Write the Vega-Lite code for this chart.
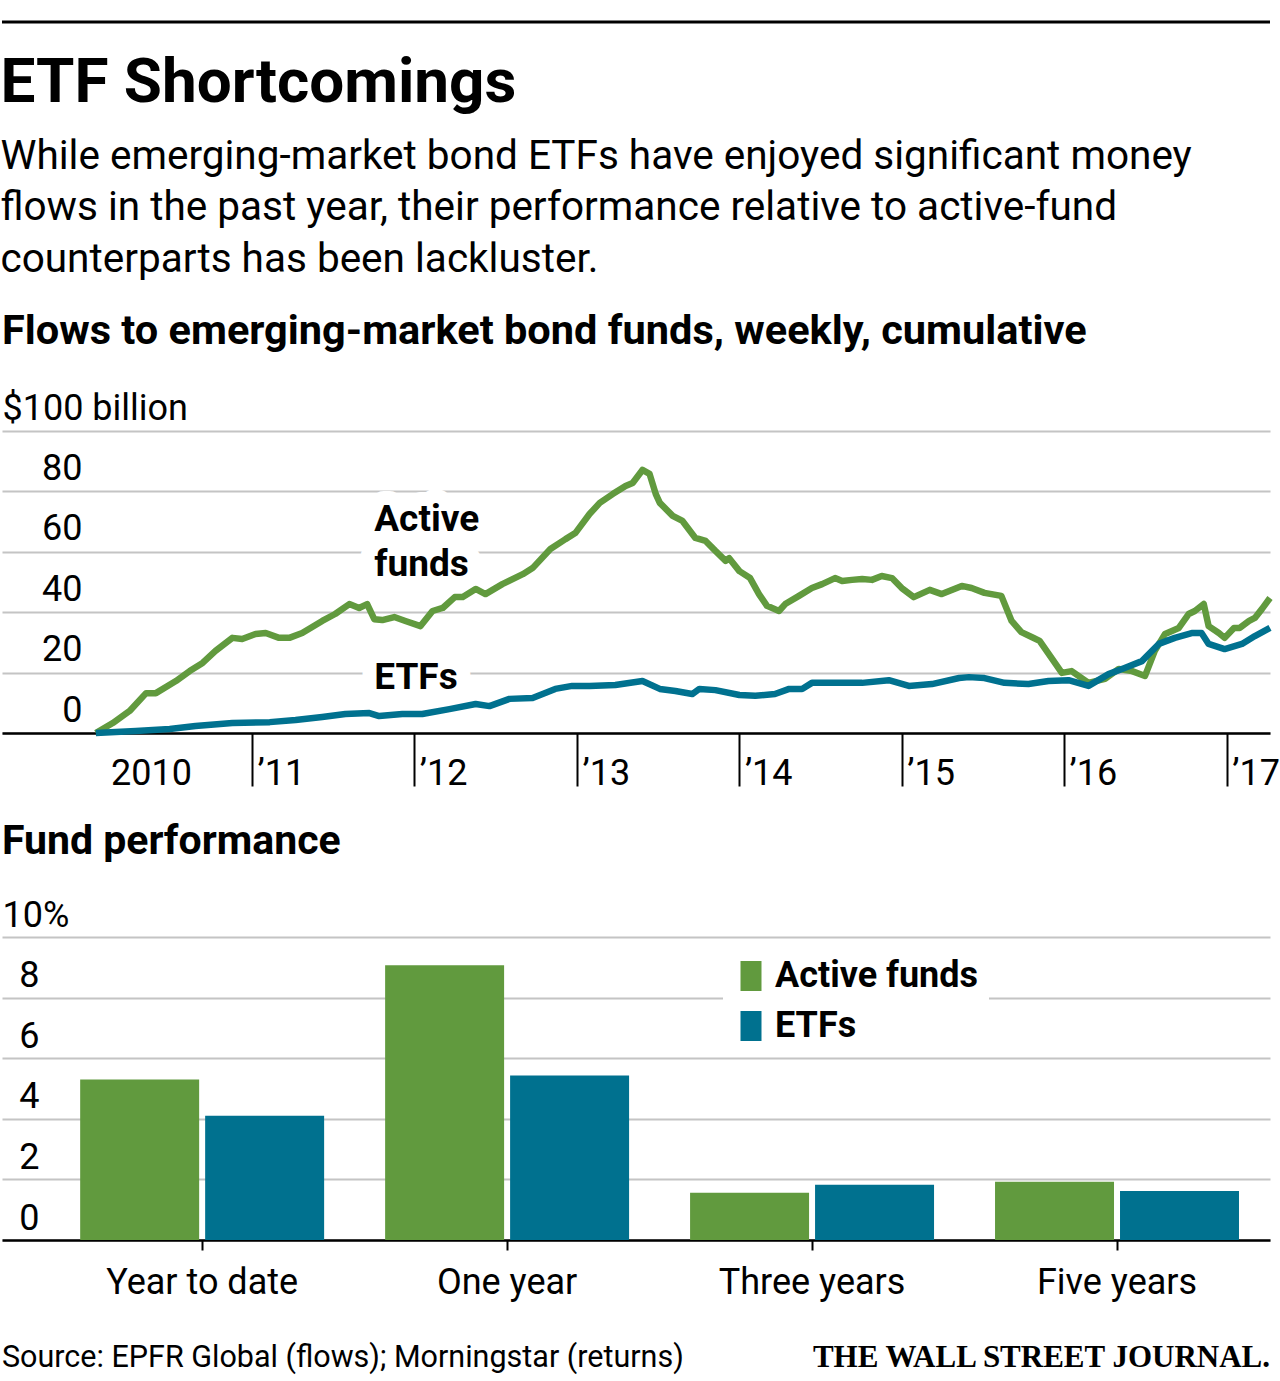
{
  "$schema": "https://vega.github.io/schema/vega-lite/v6.json",
  "background": "white",
  "padding": {"left": 0, "top": 20, "right": 12, "bottom": 0},
  "spacing": 30,
  "resolve": {"scale": {"color": "independent"}, "legend": {"color": "independent"}},
  "config": {
    "view": {"stroke": null},
    "font": "Roboto",
    "title": {"font": "Roboto", "color": "black", "anchor": "start", "fontWeight": "bold"},
    "axis": {"labelFont": "Roboto", "labelColor": "black", "labelFontSize": 36, "titleFont": "Roboto", "labelLimit": 400}
  },
  "vconcat": [
    {
      "width": 1268,
      "height": 1,
      "data": {"values": [{"v": 1}]},
      "mark": {"type": "rule", "color": "black", "strokeWidth": 3},
      "encoding": {"y": {"field": "v", "type": "quantitative", "axis": null, "scale": {"domain": [0, 1]}}},
      "title": {
        "text": "ETF Shortcomings",
        "subtitle": [
          "While emerging-market bond ETFs have enjoyed significant money",
          "flows in the past year, their performance relative to active-fund",
          "counterparts has been lackluster."
        ],
        "orient": "bottom",
        "anchor": "start",
        "fontSize": 62,
        "fontWeight": "bold",
        "offset": 29,
        "subtitleFont": "Roboto",
        "subtitleFontSize": 40.5,
        "subtitleColor": "black",
        "subtitleLineHeight": 51.5,
        "subtitlePadding": 22
      }
    },
    {
      "width": 1268,
      "height": 302,
      "title": {
        "text": "Flows to emerging-market bond funds, weekly, cumulative",
        "fontSize": 41.5,
        "fontWeight": "bold",
        "offset": 38
      },
      "encoding": {
        "x": {
          "field": "date",
          "type": "temporal",
          "title": null,
          "scale": {"domain": [{"year": 2009, "month": 6, "date": 18}, {"year": 2017, "month": 4, "date": 8}]},
          "axis": {
            "values": [
              {"year": 2010, "month": 1, "date": 1},
              {"year": 2011, "month": 1, "date": 1},
              {"year": 2012, "month": 1, "date": 1},
              {"year": 2013, "month": 1, "date": 1},
              {"year": 2014, "month": 1, "date": 1},
              {"year": 2015, "month": 1, "date": 1},
              {"year": 2016, "month": 1, "date": 1},
              {"year": 2017, "month": 1, "date": 1}
            ],
            "labelExpr": "year(datum.value) == 2010 ? '2010' : '\u2019' + substring(toString(year(datum.value)), 2)",
            "grid": false,
            "domain": true,
            "domainColor": "black",
            "domainWidth": 2.5,
            "ticks": true,
            "tickSize": 53,
            "tickWidth": 2,
            "tickColor": {"condition": {"test": "year(datum.value) == 2010", "value": "transparent"}, "value": "black"},
            "labelAlign": "left",
            "labelBaseline": "alphabetic",
            "labelPadding": -2,
            "labelOffset": {"condition": {"test": "year(datum.value) == 2010", "value": 21}, "value": 5},
            "labelFlush": false,
            "labelOverlap": false,
            "labelBound": false
          }
        },
        "y": {
          "field": "value",
          "type": "quantitative",
          "title": null,
          "scale": {"domain": [0, 100], "nice": false},
          "axis": {
            "values": [0, 20, 40, 60, 80, 100],
            "labelExpr": "datum.value == 100 ? '$100 billion' : datum.label",
            "grid": true,
            "gridColor": "#c4c4c4",
            "gridWidth": 2,
            "domain": false,
            "ticks": false,
            "tickSize": 0,
            "labelAlign": {"condition": {"test": "datum.value == 100", "value": "left"}, "value": "right"},
            "labelPadding": {"condition": {"test": "datum.value == 100", "value": 0}, "value": -80},
            "labelBaseline": "alphabetic",
            "labelOffset": -12,
            "labelFlush": false,
            "labelOverlap": false,
            "labelBound": false
          }
        }
      },
      "layer": [
        {
          "data": {"values": [
            {"date": "2011-10-03", "value": 66.9, "label": "Active"},
            {"date": "2011-10-03", "value": 52.0, "label": "funds"},
            {"date": "2011-10-03", "value": 14.6, "label": "ETFs"}
          ]},
          "mark": {"type": "text", "align": "left", "baseline": "alphabetic", "fontSize": 37, "fontWeight": "bold", "font": "Roboto", "fill": "white", "stroke": "white", "strokeWidth": 28, "strokeJoin": "round"},
          "encoding": {"text": {"field": "label", "type": "nominal"}}
        },
        {
          "data": {"values": [
            {"date": "2010-01-15", "series": "Active funds", "value": 0},
            {"date": "2010-02-22", "series": "Active funds", "value": 3.3},
            {"date": "2010-04-01", "series": "Active funds", "value": 7.3},
            {"date": "2010-05-08", "series": "Active funds", "value": 13.2},
            {"date": "2010-05-30", "series": "Active funds", "value": 13.2},
            {"date": "2010-07-14", "series": "Active funds", "value": 17.2},
            {"date": "2010-08-14", "series": "Active funds", "value": 20.5},
            {"date": "2010-09-12", "series": "Active funds", "value": 23.2},
            {"date": "2010-10-11", "series": "Active funds", "value": 27.2},
            {"date": "2010-11-18", "series": "Active funds", "value": 31.5},
            {"date": "2010-12-10", "series": "Active funds", "value": 31.1},
            {"date": "2011-01-09", "series": "Active funds", "value": 32.8},
            {"date": "2011-02-01", "series": "Active funds", "value": 33.1},
            {"date": "2011-03-03", "series": "Active funds", "value": 31.5},
            {"date": "2011-03-26", "series": "Active funds", "value": 31.5},
            {"date": "2011-04-24", "series": "Active funds", "value": 33.1},
            {"date": "2011-06-08", "series": "Active funds", "value": 37.1},
            {"date": "2011-07-07", "series": "Active funds", "value": 39.4},
            {"date": "2011-08-08", "series": "Active funds", "value": 42.7},
            {"date": "2011-08-30", "series": "Active funds", "value": 41.4},
            {"date": "2011-09-17", "series": "Active funds", "value": 42.7},
            {"date": "2011-10-03", "series": "Active funds", "value": 37.7},
            {"date": "2011-10-21", "series": "Active funds", "value": 37.4},
            {"date": "2011-11-17", "series": "Active funds", "value": 38.4},
            {"date": "2011-12-12", "series": "Active funds", "value": 37.1},
            {"date": "2012-01-15", "series": "Active funds", "value": 35.4},
            {"date": "2012-02-11", "series": "Active funds", "value": 40.4},
            {"date": "2012-03-05", "series": "Active funds", "value": 41.4},
            {"date": "2012-04-01", "series": "Active funds", "value": 45.0},
            {"date": "2012-04-19", "series": "Active funds", "value": 45.0},
            {"date": "2012-05-18", "series": "Active funds", "value": 47.7},
            {"date": "2012-06-09", "series": "Active funds", "value": 46.0},
            {"date": "2012-07-17", "series": "Active funds", "value": 49.3},
            {"date": "2012-09-01", "series": "Active funds", "value": 52.6},
            {"date": "2012-09-23", "series": "Active funds", "value": 54.6},
            {"date": "2012-11-02", "series": "Active funds", "value": 60.9},
            {"date": "2012-12-06", "series": "Active funds", "value": 64.2},
            {"date": "2012-12-28", "series": "Active funds", "value": 66.2},
            {"date": "2013-01-29", "series": "Active funds", "value": 72.5},
            {"date": "2013-02-21", "series": "Active funds", "value": 76.2},
            {"date": "2013-03-22", "series": "Active funds", "value": 79.1},
            {"date": "2013-04-20", "series": "Active funds", "value": 81.8},
            {"date": "2013-05-06", "series": "Active funds", "value": 82.8},
            {"date": "2013-05-28", "series": "Active funds", "value": 87.1},
            {"date": "2013-06-13", "series": "Active funds", "value": 85.8},
            {"date": "2013-06-27", "series": "Active funds", "value": 79.1},
            {"date": "2013-07-06", "series": "Active funds", "value": 76.2},
            {"date": "2013-08-04", "series": "Active funds", "value": 71.9},
            {"date": "2013-08-26", "series": "Active funds", "value": 70.2},
            {"date": "2013-09-24", "series": "Active funds", "value": 64.6},
            {"date": "2013-10-17", "series": "Active funds", "value": 63.6},
            {"date": "2013-11-08", "series": "Active funds", "value": 60.3},
            {"date": "2013-12-01", "series": "Active funds", "value": 57.0},
            {"date": "2013-12-09", "series": "Active funds", "value": 57.9},
            {"date": "2014-01-01", "series": "Active funds", "value": 53.6},
            {"date": "2014-01-25", "series": "Active funds", "value": 51.3},
            {"date": "2014-02-14", "series": "Active funds", "value": 46.0},
            {"date": "2014-03-04", "series": "Active funds", "value": 42.1},
            {"date": "2014-03-31", "series": "Active funds", "value": 40.4},
            {"date": "2014-04-14", "series": "Active funds", "value": 42.7},
            {"date": "2014-05-15", "series": "Active funds", "value": 45.4},
            {"date": "2014-06-13", "series": "Active funds", "value": 48.0},
            {"date": "2014-07-06", "series": "Active funds", "value": 49.3},
            {"date": "2014-08-04", "series": "Active funds", "value": 51.3},
            {"date": "2014-08-20", "series": "Active funds", "value": 50.3},
            {"date": "2014-09-11", "series": "Active funds", "value": 50.7},
            {"date": "2014-10-04", "series": "Active funds", "value": 51.0},
            {"date": "2014-10-26", "series": "Active funds", "value": 50.7},
            {"date": "2014-11-17", "series": "Active funds", "value": 52.0},
            {"date": "2014-12-10", "series": "Active funds", "value": 51.3},
            {"date": "2015-01-01", "series": "Active funds", "value": 48.0},
            {"date": "2015-01-28", "series": "Active funds", "value": 45.0},
            {"date": "2015-03-05", "series": "Active funds", "value": 47.4},
            {"date": "2015-04-01", "series": "Active funds", "value": 46.0},
            {"date": "2015-05-16", "series": "Active funds", "value": 48.7},
            {"date": "2015-06-07", "series": "Active funds", "value": 48.0},
            {"date": "2015-07-06", "series": "Active funds", "value": 46.4},
            {"date": "2015-08-13", "series": "Active funds", "value": 45.4},
            {"date": "2015-09-05", "series": "Active funds", "value": 37.1},
            {"date": "2015-09-27", "series": "Active funds", "value": 33.4},
            {"date": "2015-10-20", "series": "Active funds", "value": 31.8},
            {"date": "2015-11-07", "series": "Active funds", "value": 30.5},
            {"date": "2015-12-04", "series": "Active funds", "value": 24.8},
            {"date": "2015-12-27", "series": "Active funds", "value": 19.9},
            {"date": "2016-01-18", "series": "Active funds", "value": 20.5},
            {"date": "2016-02-25", "series": "Active funds", "value": 16.6},
            {"date": "2016-04-02", "series": "Active funds", "value": 17.9},
            {"date": "2016-05-03", "series": "Active funds", "value": 21.2},
            {"date": "2016-06-02", "series": "Active funds", "value": 20.5},
            {"date": "2016-07-01", "series": "Active funds", "value": 18.9},
            {"date": "2016-07-23", "series": "Active funds", "value": 27.2},
            {"date": "2016-08-15", "series": "Active funds", "value": 32.8},
            {"date": "2016-09-15", "series": "Active funds", "value": 34.8},
            {"date": "2016-10-07", "series": "Active funds", "value": 39.4},
            {"date": "2016-10-21", "series": "Active funds", "value": 40.4},
            {"date": "2016-11-10", "series": "Active funds", "value": 42.7},
            {"date": "2016-11-21", "series": "Active funds", "value": 35.4},
            {"date": "2016-12-14", "series": "Active funds", "value": 33.1},
            {"date": "2016-12-27", "series": "Active funds", "value": 31.5},
            {"date": "2017-01-17", "series": "Active funds", "value": 34.8},
            {"date": "2017-01-30", "series": "Active funds", "value": 34.8},
            {"date": "2017-02-20", "series": "Active funds", "value": 37.1},
            {"date": "2017-03-05", "series": "Active funds", "value": 38.1},
            {"date": "2017-03-21", "series": "Active funds", "value": 41.1},
            {"date": "2017-04-08", "series": "Active funds", "value": 44.7},
            {"date": "2010-01-15", "series": "ETFs", "value": 0},
            {"date": "2010-04-15", "series": "ETFs", "value": 0.7},
            {"date": "2010-06-30", "series": "ETFs", "value": 1.3},
            {"date": "2010-08-27", "series": "ETFs", "value": 2.3},
            {"date": "2010-11-18", "series": "ETFs", "value": 3.3},
            {"date": "2011-02-10", "series": "ETFs", "value": 3.6},
            {"date": "2011-04-09", "series": "ETFs", "value": 4.3},
            {"date": "2011-06-08", "series": "ETFs", "value": 5.3},
            {"date": "2011-07-30", "series": "ETFs", "value": 6.3},
            {"date": "2011-09-22", "series": "ETFs", "value": 6.6},
            {"date": "2011-10-14", "series": "ETFs", "value": 5.6},
            {"date": "2011-12-05", "series": "ETFs", "value": 6.3},
            {"date": "2012-01-19", "series": "ETFs", "value": 6.3},
            {"date": "2012-03-20", "series": "ETFs", "value": 7.9},
            {"date": "2012-05-18", "series": "ETFs", "value": 9.6},
            {"date": "2012-06-18", "series": "ETFs", "value": 8.9},
            {"date": "2012-08-02", "series": "ETFs", "value": 11.3},
            {"date": "2012-09-23", "series": "ETFs", "value": 11.6},
            {"date": "2012-11-13", "series": "ETFs", "value": 14.6},
            {"date": "2012-12-21", "series": "ETFs", "value": 15.6},
            {"date": "2013-01-29", "series": "ETFs", "value": 15.6},
            {"date": "2013-03-28", "series": "ETFs", "value": 15.9},
            {"date": "2013-05-28", "series": "ETFs", "value": 17.2},
            {"date": "2013-07-06", "series": "ETFs", "value": 14.6},
            {"date": "2013-08-10", "series": "ETFs", "value": 13.9},
            {"date": "2013-09-17", "series": "ETFs", "value": 12.9},
            {"date": "2013-10-03", "series": "ETFs", "value": 14.6},
            {"date": "2013-11-08", "series": "ETFs", "value": 14.2},
            {"date": "2014-01-01", "series": "ETFs", "value": 12.6},
            {"date": "2014-02-06", "series": "ETFs", "value": 12.3},
            {"date": "2014-03-22", "series": "ETFs", "value": 12.9},
            {"date": "2014-04-23", "series": "ETFs", "value": 14.6},
            {"date": "2014-05-22", "series": "ETFs", "value": 14.6},
            {"date": "2014-06-13", "series": "ETFs", "value": 16.6},
            {"date": "2014-08-04", "series": "ETFs", "value": 16.6},
            {"date": "2014-10-04", "series": "ETFs", "value": 16.6},
            {"date": "2014-12-03", "series": "ETFs", "value": 17.5},
            {"date": "2015-01-17", "series": "ETFs", "value": 15.6},
            {"date": "2015-03-10", "series": "ETFs", "value": 16.2},
            {"date": "2015-05-10", "series": "ETFs", "value": 18.2},
            {"date": "2015-06-01", "series": "ETFs", "value": 18.5},
            {"date": "2015-07-06", "series": "ETFs", "value": 18.2},
            {"date": "2015-08-20", "series": "ETFs", "value": 16.6},
            {"date": "2015-10-13", "series": "ETFs", "value": 16.2},
            {"date": "2015-11-27", "series": "ETFs", "value": 17.2},
            {"date": "2016-01-11", "series": "ETFs", "value": 17.5},
            {"date": "2016-02-25", "series": "ETFs", "value": 15.6},
            {"date": "2016-04-10", "series": "ETFs", "value": 19.5},
            {"date": "2016-05-16", "series": "ETFs", "value": 21.5},
            {"date": "2016-06-24", "series": "ETFs", "value": 23.8},
            {"date": "2016-08-01", "series": "ETFs", "value": 29.5},
            {"date": "2016-09-06", "series": "ETFs", "value": 31.5},
            {"date": "2016-10-14", "series": "ETFs", "value": 33.1},
            {"date": "2016-11-05", "series": "ETFs", "value": 33.1},
            {"date": "2016-11-21", "series": "ETFs", "value": 29.5},
            {"date": "2016-12-27", "series": "ETFs", "value": 27.8},
            {"date": "2017-02-04", "series": "ETFs", "value": 29.5},
            {"date": "2017-03-05", "series": "ETFs", "value": 32.1},
            {"date": "2017-04-08", "series": "ETFs", "value": 34.8}
          ]},
          "mark": {"type": "line", "strokeWidth": 6.5, "strokeJoin": "round", "strokeCap": "butt"},
          "encoding": {
            "color": {"field": "series", "type": "nominal", "scale": {"domain": ["Active funds", "ETFs"], "range": ["#619a3e", "#00718f"]}, "legend": null}
          }
        },
        {
          "data": {"values": [
            {"date": "2011-10-03", "value": 66.9, "label": "Active"},
            {"date": "2011-10-03", "value": 52.0, "label": "funds"},
            {"date": "2011-10-03", "value": 14.6, "label": "ETFs"}
          ]},
          "mark": {"type": "text", "align": "left", "baseline": "alphabetic", "fontSize": 37, "fontWeight": "bold", "font": "Roboto", "fill": "black"},
          "encoding": {"text": {"field": "label", "type": "nominal"}}
        }
      ]
    },
    {
      "width": 1268,
      "height": 303,
      "title": {
        "text": "Fund performance",
        "fontSize": 41,
        "fontWeight": "bold",
        "offset": 34
      },
      "data": {"values": [
        {"period": "Year to date", "series": "Active funds", "value": 5.3},
        {"period": "Year to date", "series": "ETFs", "value": 4.1},
        {"period": "One year", "series": "Active funds", "value": 9.07},
        {"period": "One year", "series": "ETFs", "value": 5.43},
        {"period": "Three years", "series": "Active funds", "value": 1.56},
        {"period": "Three years", "series": "ETFs", "value": 1.82},
        {"period": "Five years", "series": "Active funds", "value": 1.92},
        {"period": "Five years", "series": "ETFs", "value": 1.62}
      ]},
      "mark": {"type": "bar"},
      "encoding": {
        "x": {
          "field": "period",
          "type": "nominal",
          "sort": ["Year to date", "One year", "Three years", "Five years"],
          "title": null,
          "scale": {"paddingInner": 0.2, "paddingOuter": 0.179, "align": 0.716},
          "axis": {
            "labelAngle": 0,
            "domain": true,
            "domainColor": "black",
            "domainWidth": 2.5,
            "ticks": true,
            "tickSize": 10,
            "tickWidth": 2,
            "tickColor": "black",
            "labelBaseline": "alphabetic",
            "labelPadding": 43,
            "grid": false
          }
        },
        "xOffset": {
          "field": "series",
          "type": "nominal",
          "sort": ["Active funds", "ETFs"],
          "scale": {"paddingInner": 0.048, "paddingOuter": 0}
        },
        "y": {
          "field": "value",
          "type": "quantitative",
          "title": null,
          "scale": {"domain": [0, 10], "nice": false},
          "axis": {
            "values": [0, 2, 4, 6, 8, 10],
            "labelExpr": "datum.value == 10 ? '10%' : datum.label",
            "grid": true,
            "gridColor": "#c4c4c4",
            "gridWidth": 2,
            "domain": false,
            "ticks": false,
            "tickSize": 0,
            "labelAlign": {"condition": {"test": "datum.value == 10", "value": "left"}, "value": "right"},
            "labelPadding": {"condition": {"test": "datum.value == 10", "value": 0}, "value": -37},
            "labelBaseline": "alphabetic",
            "labelOffset": -11,
            "labelFlush": false,
            "labelOverlap": false,
            "labelBound": false
          }
        },
        "color": {
          "field": "series",
          "type": "nominal",
          "scale": {"domain": ["Active funds", "ETFs"], "range": ["#619a3e", "#00718f"]},
          "legend": {
            "title": null,
            "orient": "none",
            "legendX": 721,
            "legendY": 11,
            "fillColor": "white",
            "padding": 10,
            "labelFont": "Roboto",
            "labelFontSize": 36,
            "labelFontWeight": "bold",
            "labelColor": "black",
            "labelLimit": 400,
            "symbolType": "M-0.7,-1H0.7V1H-0.7Z",
            "symbolSize": 900,
            "symbolStrokeWidth": 0,
            "symbolOpacity": 1,
            "labelOffset": 6,
            "rowPadding": 14,
            "direction": "vertical"
          }
        }
      }
    },
    {
      "width": 1268,
      "height": 74,
      "data": {"values": [
        {"pos": 0, "kind": "source", "label": "Source: EPFR Global (flows); Morningstar (returns)"},
        {"pos": 1, "kind": "logo", "label": "THE WALL STREET JOURNAL."}
      ]},
      "encoding": {
        "x": {"field": "pos", "type": "quantitative", "scale": {"domain": [0, 1]}, "axis": null},
        "text": {"field": "label", "type": "nominal"}
      },
      "layer": [
        {
          "transform": [{"filter": "datum.kind == 'source'"}],
          "mark": {"type": "text", "align": "left", "baseline": "alphabetic", "fontSize": 30.5, "font": "Roboto", "color": "black"}
        },
        {
          "transform": [{"filter": "datum.kind == 'logo'"}],
          "mark": {"type": "text", "align": "right", "baseline": "alphabetic", "fontSize": 31, "font": "Liberation Serif", "fontWeight": "bold", "color": "black"}
        }
      ]
    }
  ]
}
